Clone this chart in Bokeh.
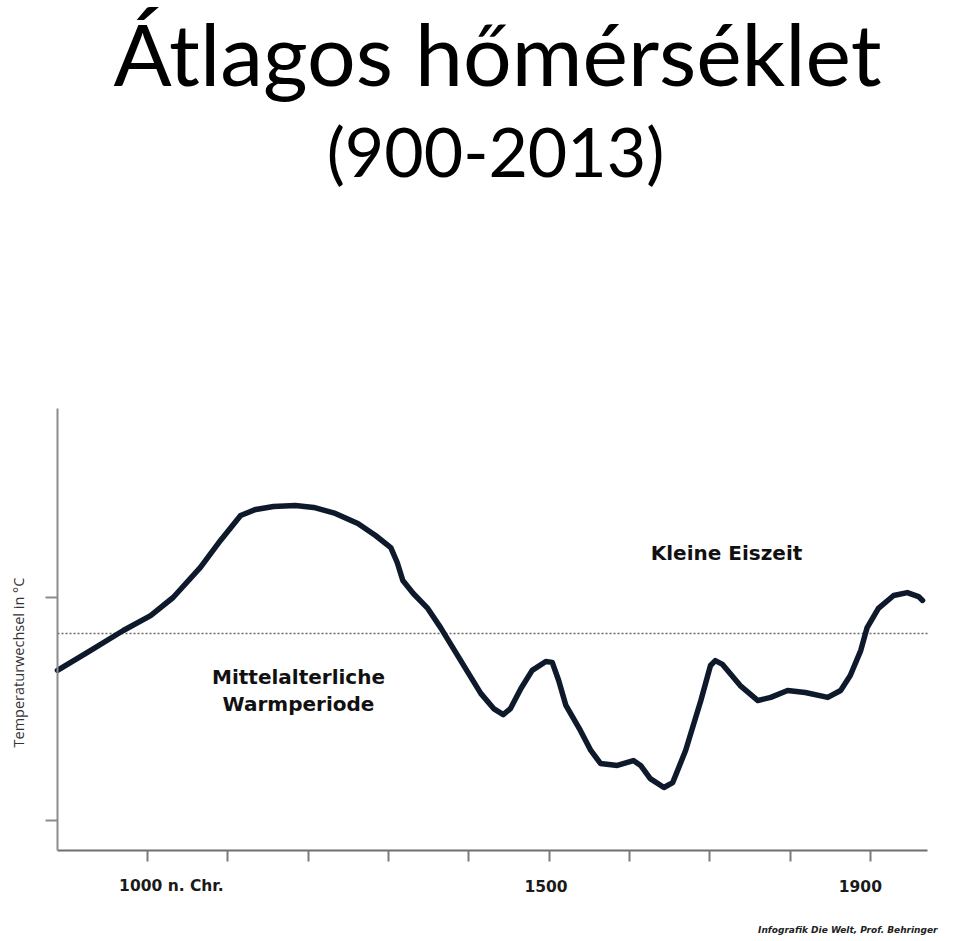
import math
from bokeh.plotting import figure
from bokeh.models import Range1d, FixedTicker, Label, ColumnDataSource, LinearAxis
from bokeh.embed import file_html
from bokeh.resources import INLINE

# ---- data (years, relative temperature change; axis ticks at 0 and 1) ----
years = [888, 929, 970, 1004, 1032, 1066, 1091, 1116, 1135, 1157, 1184, 1207,
         1234, 1262, 1284, 1303, 1311, 1318, 1331, 1349, 1365, 1384, 1399, 1415,
         1431, 1443, 1452, 1465, 1479, 1496, 1504, 1512, 1521, 1539, 1552, 1564,
         1585, 1605, 1614, 1626, 1643, 1654, 1670, 1689, 1701, 1707, 1716, 1738,
         1760, 1776, 1797, 1819, 1847, 1863, 1875, 1888, 1896, 1910, 1929, 1946,
         1960, 1965]
temps = [0.673, 0.762, 0.852, 0.919, 1.000, 1.135, 1.256, 1.368, 1.395, 1.408,
         1.413, 1.404, 1.377, 1.332, 1.278, 1.224, 1.157, 1.076, 1.018, 0.951,
         0.865, 0.753, 0.664, 0.570, 0.502, 0.475, 0.502, 0.592, 0.673, 0.713,
         0.709, 0.628, 0.516, 0.404, 0.314, 0.256, 0.247, 0.269, 0.247, 0.188,
         0.148, 0.170, 0.314, 0.538, 0.695, 0.717, 0.700, 0.605, 0.538, 0.552,
         0.583, 0.574, 0.552, 0.583, 0.650, 0.762, 0.865, 0.951, 1.009, 1.022,
         1.004, 0.987]
reference_level = 0.839
x_ticks = [1000, 1100, 1200, 1300, 1400, 1500, 1600, 1700, 1800, 1900]
y_ticks = [0, 1]
x_label_years = [1000, 1500, 1900]
x_label_texts = ["1000 n. Chr.", "1500", "1900"]
title_lines = ["Átlagos hőmérséklet", "(900-2013)"]
y_title = "Temperaturwechsel in °C"
annot_warm = ["Mittelalterliche", "Warmperiode"]
annot_cold = "Kleine Eiszeit"
credit = "Infografik Die Welt, Prof. Behringer"

# canvas-pixel -> data helpers (for placing axes and text only)
def X(px):
    return 1000 + (px - 146.9) * 1.2449

def Y(py):
    return (820 - py) / 223.0

W, H = 956, 938
p = figure(width=W, height=H, output_backend="svg", toolbar_location=None,
           x_range=Range1d(X(0), X(W)), y_range=Range1d(Y(H), Y(0)),
           x_axis_location=None, y_axis_location=None,
           min_border_left=0, min_border_right=0, min_border_top=0,
           min_border_bottom=0)
p.background_fill_color = "white"
p.border_fill_color = "white"
p.outline_line_color = None
p.xgrid.visible = False
p.ygrid.visible = False

# axes drawn at fixed positions inside the canvas
xax = LinearAxis(fixed_location=Y(850), bounds=(X(57), X(927)),
                 ticker=FixedTicker(ticks=x_ticks))
yax = LinearAxis(fixed_location=X(57), bounds=(Y(850), Y(408)),
                 ticker=FixedTicker(ticks=y_ticks))
for ax in (xax, yax):
    ax.major_label_text_color = None
    ax.major_label_text_font_size = "1px"
    ax.minor_tick_line_color = None
    ax.major_tick_in = 0
    ax.major_tick_line_width = 2
    ax.axis_line_width = 2
xax.major_tick_out = 11
yax.major_tick_out = 12
xax.axis_line_color = "#6e6e6e"
xax.major_tick_line_color = "#7a7a7a"
yax.axis_line_color = "#8c8c8c"
yax.major_tick_line_color = "#8c8c8c"
p.add_layout(xax, "below")
p.add_layout(yax, "left")

# dotted reference line (limited to the chart width)
p.line(x=[X(57), X(927)], y=[reference_level, reference_level],
       line_color="#6a6a6a", line_width=1.5, line_dash="2 2")

# curve
src = ColumnDataSource(dict(x=years, y=temps))
p.line("x", "y", source=src, line_color="#0e1a2b", line_width=5.5,
       line_join="round", line_cap="round")

# title
p.add_layout(Label(x=X(497), y=Y(52), text=title_lines[0], text_font="Lato",
                   text_font_size="86px", text_align="center",
                   text_baseline="alphabetic", text_color="black"))
p.add_layout(Label(x=X(495), y=Y(150), text=title_lines[1], text_font="Lato",
                   text_font_size="68px", text_align="center",
                   text_baseline="alphabetic", text_color="black"))

# y title
p.add_layout(Label(x=X(18), y=Y(662), text=y_title, angle=math.pi / 2,
                   text_font="Open Sans", text_font_size="14.5px",
                   text_align="center", text_baseline="middle",
                   text_color="#333333"))

# x tick labels
offsets = {1000: 24, 1500: -3, 1900: -10}
for yr, t in zip(x_label_years, x_label_texts):
    p.add_layout(Label(x=yr, y=Y(885), x_offset=offsets[yr], text=t,
                       text_font="DejaVu Sans", text_font_style="bold",
                       text_font_size="15.5px", text_align="center",
                       text_baseline="middle", text_color="#1a1a1a"))

# annotations
for i, t in enumerate(annot_warm):
    p.add_layout(Label(x=X(298), y=Y(676 + 27 * i), text=t,
                       text_font="DejaVu Sans", text_font_style="bold",
                       text_font_size="20px", text_align="center",
                       text_baseline="middle", text_color="#111111"))
p.add_layout(Label(x=X(726), y=Y(552), text=annot_cold,
                   text_font="DejaVu Sans", text_font_style="bold",
                   text_font_size="20px", text_align="center",
                   text_baseline="middle", text_color="#111111"))

# credit
p.add_layout(Label(x=X(937), y=Y(929), text=credit,
                   text_font="DejaVu Sans", text_font_style="bold italic",
                   text_font_size="9px", text_align="right",
                   text_baseline="middle", text_color="#222222"))

open("out.html", "w").write(file_html(p, INLINE))
